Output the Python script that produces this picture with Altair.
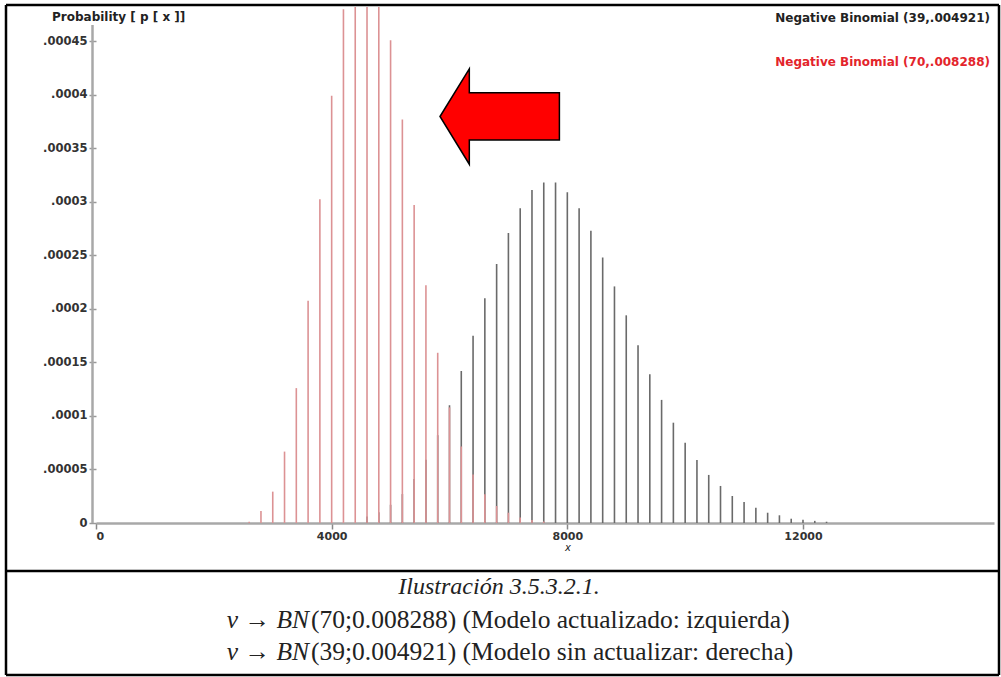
import altair as alt
import pandas as pd

# ---------------- data ----------------
x_black = [4600, 4800, 5000, 5200, 5400, 5600, 5800, 6000, 6200, 6400, 6600, 6800,
           7000, 7200, 7400, 7600, 7800, 8000, 8200, 8400, 8600, 8800, 9000, 9200,
           9400, 9600, 9800, 10000, 10200, 10400, 10600, 10800, 11000, 11200,
           11400, 11600, 11800, 12000, 12200, 12400]
p_black = [0.000006, 0.000010, 0.000017, 0.000027, 0.000041, 0.000059, 0.000082,
           0.000110, 0.000142, 0.000175, 0.000210, 0.000242, 0.000271, 0.000294,
           0.000311, 0.000318, 0.000318, 0.000309, 0.000294, 0.000273, 0.000248,
           0.000221, 0.000194, 0.000166, 0.000139, 0.000115, 0.0000937, 0.000075,
           0.0000589, 0.0000449, 0.0000346, 0.0000252, 0.0000196, 0.0000143,
           0.0000096, 0.0000072, 0.0000040, 0.0000030, 0.0000020, 0.0000012]

x_red = [2600, 2800, 3000, 3200, 3400, 3600, 3800, 4000, 4200, 4400, 4600, 4800,
         5000, 5200, 5400, 5600, 5800, 6000, 6200, 6400, 6600, 6800, 7000, 7200,
         7400, 7600]
p_red = [0.0000012, 0.0000112, 0.0000293, 0.0000667, 0.000126, 0.0002075,
         0.0003025, 0.000399, 0.000480, 0.000535, 0.000553, 0.000532, 0.000451,
         0.000377, 0.000297, 0.000222, 0.000159, 0.000108, 0.0000715, 0.0000452,
         0.0000268, 0.0000159, 0.0000096, 0.0000052, 0.0000028, 0.0000014]

legend_black = "Negative Binomial (39,.004921)"
legend_red = "Negative Binomial (70,.008288)"
y_title = "Probability  [ p [ x ]]"
x_title = "x"
caption1 = "Ilustración 3.5.3.2.1."
cap2_a, cap2_b = "ν → BN", "(70;0.008288) (Modelo actualizado: izquierda)"
cap3_a, cap3_b = "ν → BN", "(39;0.004921) (Modelo sin actualizar: derecha)"

y_ticks = [0, 0.00005, 0.0001, 0.00015, 0.0002, 0.00025, 0.0003, 0.00035, 0.0004, 0.00045]
x_ticks = [0, 4000, 8000, 12000]

# ---------------- layout ----------------
W, H = 898, 516
X_MAX = 15242
Y_MAX = 0.000482
UI_FONT = "DejaVu Sans"

df_b = pd.DataFrame({"x": x_black, "p": p_black})
df_r = pd.DataFrame({"x": x_red, "p": p_red})
one = pd.DataFrame({"a": [0]})

xs = alt.Scale(domain=[0, X_MAX], nice=False, zero=False)
ys = alt.Scale(domain=[0, Y_MAX], nice=False)

x_axis = alt.Axis(values=x_ticks, format="d", title=None, grid=False,
                  domainColor="#a8a8a8", domainWidth=2.5, tickColor="#888",
                  tickSize=6, tickWidth=1.5, labelFont=UI_FONT,
                  labelFontWeight="bold", labelFontSize=11, labelColor="#333",
                  labelPadding=1)
y_axis = alt.Axis(values=y_ticks, title=None, grid=False, domain=False,
                  labelExpr="datum.value == 0 ? '0' : substring(format(datum.value, '.5~f'), 1)",
                  tickColor="#999", tickSize=7, tickWidth=1.5,
                  labelFont=UI_FONT, labelFontWeight="bold",
                  labelFontSize=11.5, labelColor="#333", labelPadding=2)

black = alt.Chart(df_b).mark_rule(color="#6a6a6a", strokeWidth=1.6, clip=True).encode(
    x=alt.X("x:Q", scale=xs, axis=x_axis),
    y=alt.Y("p:Q", scale=ys, axis=y_axis),
    y2=alt.datum(0),
)
red = alt.Chart(df_r).mark_rule(color="#dc9294", strokeWidth=1.6, clip=True).encode(
    x=alt.X("x:Q", scale=xs),
    y=alt.Y("p:Q", scale=ys),
    y2=alt.datum(0),
)

def rule(x, x2, y, y2, color="#000", sw=2.5):
    return alt.Chart(one).mark_rule(color=color, strokeWidth=sw).encode(
        x=alt.value(x), x2=alt.value(x2), y=alt.value(y), y2=alt.value(y2))

def text(t, x, y, size=11, color="#222", align="left", font=UI_FONT,
         weight="bold", style="normal", baseline="middle"):
    return alt.Chart(one).mark_text(
        text=t, align=align, baseline=baseline, font=font, fontSize=size,
        fontWeight=weight, fontStyle=style, color=color
    ).encode(x=alt.value(x), y=alt.value(y))

yaxis_line = rule(-3.5, -3.5, 18, 516, color="#a8a8a8", sw=2.5)

arrow_path = ("M -1 0 L -0.509 -0.796 L -0.509 -0.399 L 1 -0.399 L 1 0.394 "
              "L -0.509 0.394 L -0.509 0.8 Z")
arrow = alt.Chart(one).mark_point(
    shape=arrow_path, size=14256, filled=True, fill="#ff0000", stroke="#000",
    strokeWidth=1.5, opacity=1, fillOpacity=1
).encode(x=alt.value(403.7), y=alt.value(109.5))

frame = [
    rule(-90, 903, -2, -2),
    rule(-90, 903, 668, 668),
    rule(-90, 903, 564, 564),
    rule(-90, -90, -2, 668),
    rule(903, 903, -2, 668),
]

SERIF = "Liberation Serif"
texts = [
    text(y_title, -44, 10, size=12),
    text(legend_black, 894, 11, size=12, align="right", color="#222"),
    text(legend_red, 894, 55, size=12, align="right", color="#e3242b"),
    text(x_title, 469, 541, size=10, style="italic", weight="normal"),
    text(caption1, 403, 580, size=24, font=SERIF, weight="normal",
         style="italic", align="center"),
    text(cap2_a, 213, 613, size=25.5, font=SERIF, weight="normal",
         style="italic", align="right"),
    text(cap2_b, 215, 613, size=25.5, font=SERIF, weight="normal"),
    text(cap3_a, 213, 645, size=25.5, font=SERIF, weight="normal",
         style="italic", align="right"),
    text(cap3_b, 215, 645, size=25.5, font=SERIF, weight="normal"),
]

chart = alt.layer(black, red, yaxis_line, arrow, *frame, *texts).properties(
    width=W, height=H,
    autosize=alt.AutoSizeParams(type="none"),
    padding={"left": 96, "top": 7, "right": 1001 - 96 - W, "bottom": 677 - 7 - H},
    background="white",
).configure_view(stroke=None)

chart.save("out.html", embed_options={"renderer": "svg", "actions": False})
